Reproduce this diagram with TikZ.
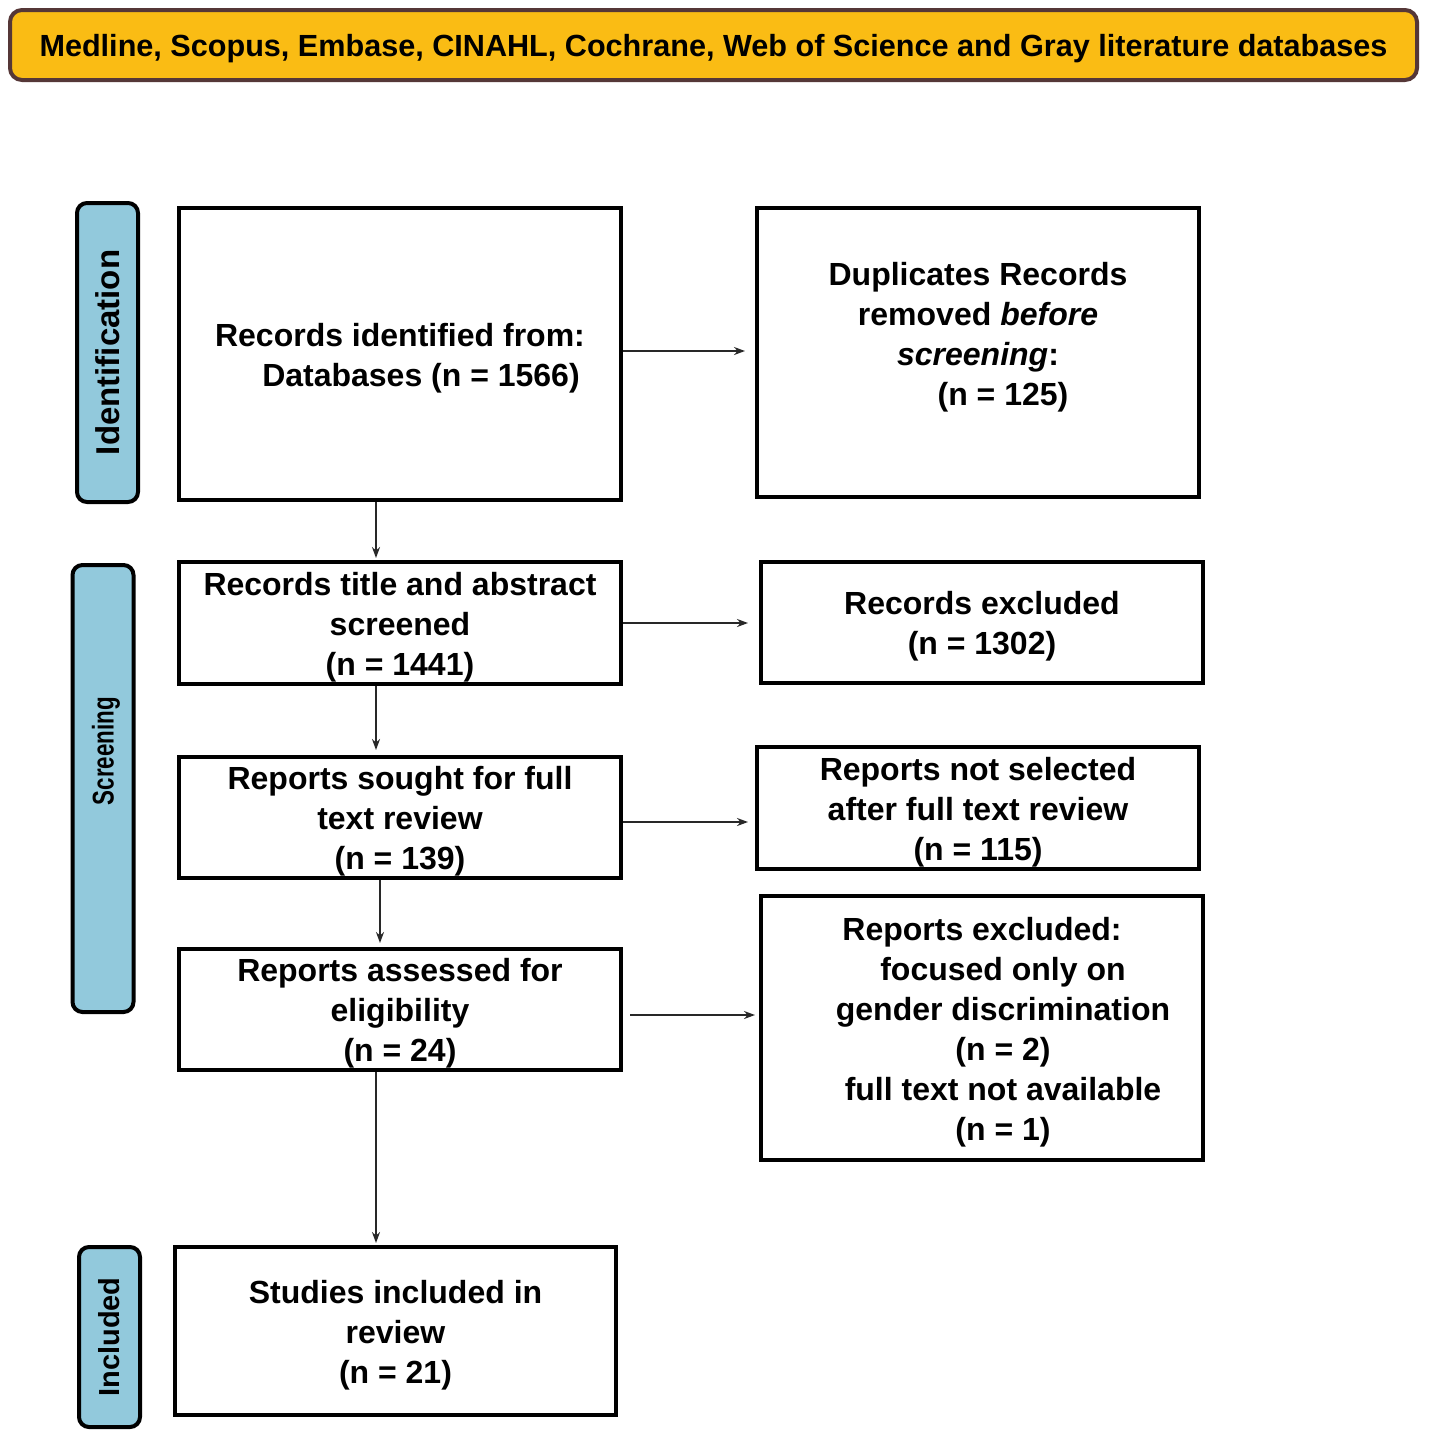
\documentclass[tikz,border=0pt]{standalone}
\usepackage{fontspec}
\setmainfont{Liberation Sans}
\usetikzlibrary{arrows.meta}
\definecolor{bannerfill}{RGB}{250,188,20}
\definecolor{bannerdraw}{RGB}{85,55,55}
\definecolor{sidefill}{RGB}{146,201,220}
\definecolor{arrowcol}{RGB}{40,40,40}
\newcommand{\fl}{\rule{0pt}{31pt}}
\begin{document}
\begin{tikzpicture}[x=1pt,y=-1pt,
  boxtext/.style={inner sep=0pt, align=center, font=\fontsize{32}{40}\selectfont\bfseries},
  box/.style={boxtext, draw=black, line width=4pt, fill=white, minimum width=442pt},
  side/.style={draw=black, line width=4pt, fill=sidefill, rounded corners=10pt, inner sep=0pt, rotate=90, minimum height=61pt},
  arr/.style={draw=arrowcol, line width=2pt, -{Stealth[length=11pt,width=8pt]}}]
\useasboundingbox (0,0) rectangle (1429,1438);
\fill[white] (0,0) rectangle (1429,1438);

% banner
\node[draw=bannerdraw, line width=4pt, fill=bannerfill, rounded corners=12pt,
      minimum width=1407pt, minimum height=70pt, inner sep=0pt,
      font=\fontsize{30.6}{36}\selectfont\bfseries] (banner) at (713.5,45)
  {\rule{0pt}{30pt}Medline, Scopus, Embase, CINAHL, Cochrane, Web of Science and Gray literature databases};

% side labels
\node[side, minimum width=299pt, font=\fontsize{33}{40}\selectfont\bfseries] (ident) at (107.5,352.5) {Identification};
\node[side, minimum width=447pt] (screen) at (103,788.5) {};
\node[inner sep=0pt, rotate=90, font=\fontsize{30}{36}\selectfont\bfseries] (screentext) at (106,751) {\scalebox{0.745}[1]{Screening}};
\node[side, minimum width=180pt, font=\fontsize{29}{36}\selectfont\bfseries] (incl) at (109.5,1337) {Included};

% left column
\node[box, minimum height=292pt] (b1) at (400,354)
  {\fl Records identified from:\\ \hspace*{42pt}Databases (n = 1566)};
\node[box, minimum height=122pt] (b2) at (400,623)
  {\fl Records title and abstract\\ screened\\ (n = 1441)};
\node[box, minimum height=121pt] (b3) at (400,817.5)
  {\fl Reports sought for full\\ text review\\ (n = 139)};
\node[box, minimum height=121pt] (b4) at (400,1009.5)
  {\fl Reports assessed for\\ eligibility\\ (n = 24)};
\node[box, minimum width=441pt, minimum height=168pt] (b5) at (395.5,1331)
  {\fl Studies included in\\ review\\ (n = 21)};

% right column
\node[box, minimum height=289pt] (dup) at (978,352.5) {};
\node[boxtext] (duptext) at (978,337)
  {Duplicates Records\\ removed \textit{before}\\ \textit{screening}:\\ \hspace*{50pt}(n = 125)};
\node[box, minimum height=121pt] (e1) at (982,622.5)
  {\fl Records excluded\\ (n = 1302)};
\node[box, minimum height=122pt] (ns) at (978,808)
  {\fl Reports not selected\\ after full text review\\ (n = 115)};
\node[box, minimum height=264pt] (e2) at (982,1028)
  {\fl Reports excluded:\\ \hspace*{42pt}focused only on\\ \hspace*{42pt}gender discrimination\\ \hspace*{42pt}(n = 2)\\ \hspace*{42pt}full text not available\\ \hspace*{42pt}(n = 1)};

% horizontal arrows
\draw[arr, shorten >=10pt] ([yshift=3pt]b1.east) -- ([yshift=3pt]b1.east -| dup.west);
\draw[arr, shorten >=11pt] (b2.east) -- (b2.east -| e1.west);
\draw[arr, shorten >=7pt] ([yshift=-4.5pt]b3.east) -- ([yshift=-4.5pt]b3.east -| ns.west);
\draw[arr, shorten <=7pt, shorten >=4pt] ([yshift=-5.5pt]b4.east) -- ([yshift=-5.5pt]b4.east -| e2.west);

% vertical arrows
\draw[arr, shorten >=2pt] ([xshift=-24pt]b1.south) -- ([xshift=-24pt]b1.south |- b2.north);
\draw[arr, shorten >=5pt] ([xshift=-24pt]b2.south) -- ([xshift=-24pt]b2.south |- b3.north);
\draw[arr, shorten >=4pt] ([xshift=-20pt]b3.south) -- ([xshift=-20pt]b3.south |- b4.north);
\draw[arr, shorten >=2pt] ([xshift=-24pt]b4.south) -- ([xshift=-24pt]b4.south |- b5.north);
\end{tikzpicture}
\end{document}
